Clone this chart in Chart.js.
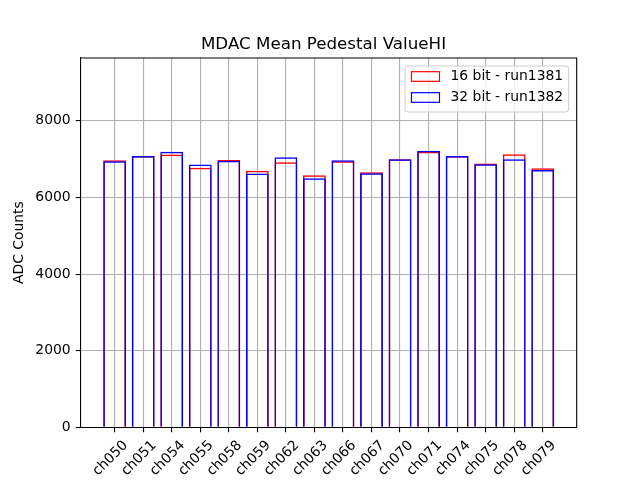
<!DOCTYPE html>
<html>
<head>
<meta charset="utf-8">
<script src="https://cdn.jsdelivr.net/npm/chart.js@4/dist/chart.umd.min.js"></script>
<style>
  html, body { margin: 0; padding: 0; background: #fff; }
  canvas { display: block; }
</style>
</head>
<body>
<canvas id="chart" width="640" height="480"></canvas>
<script>
// values
const CHANNELS = ['ch050','ch051','ch054','ch055','ch058','ch059','ch062','ch063',
                  'ch066','ch067','ch070','ch071','ch074','ch075','ch078','ch079'];
const RUN1381 = [6971, 7080, 7118, 6778, 6979, 6700, 6919, 6580,
                 6945, 6658, 6997, 7196, 7084, 6883, 7128, 6762];
const RUN1382 = [6945, 7084, 7196, 6857, 6960, 6622, 7050, 6501,
                 6971, 6632, 6997, 7222, 7084, 6867, 6997, 6718];
const Y_TICKS = [0, 2000, 4000, 6000, 8000];
const Y_MAX = 9640;

const FONT = 'DejaVu Sans';
const GRID = '#b0b0b0';

const toPoints = arr => arr.map((v, i) => ({ x: i, y: v }));

// title, frame and legend drawn on top like matplotlib
const decor = {
  id: 'decor',
  afterDraw(chart) {
    const { ctx, chartArea: a } = chart;
    ctx.save();

    // top & right spines
    ctx.strokeStyle = '#000';
    ctx.lineWidth = 1.1;
    ctx.beginPath();
    ctx.moveTo(a.left, a.top);
    ctx.lineTo(a.right, a.top);
    ctx.lineTo(a.right, a.bottom);
    ctx.stroke();

    // title
    ctx.fillStyle = '#000';
    ctx.font = '16.7px "' + FONT + '"';
    ctx.textAlign = 'center';
    ctx.textBaseline = 'alphabetic';
    ctx.fillText('MDAC Mean Pedestal ValueHI', 323.5, 49);

    // legend
    ctx.font = '13.9px "' + FONT + '"';
    const sets = chart.data.datasets;
    const textW = Math.max(...sets.map(d => ctx.measureText(d.label).width));
    const boxW = 6 + 28 + 11 + textW + 6;
    const boxH = 46;
    const x0 = a.right - 8 - boxW;
    const y0 = a.top + 8;
    ctx.beginPath();
    ctx.roundRect(x0, y0, boxW, boxH, 3);
    ctx.fillStyle = 'rgba(255,255,255,0.8)';
    ctx.fill();
    ctx.strokeStyle = '#cccccc';
    ctx.lineWidth = 1;
    ctx.stroke();

    ctx.textAlign = 'left';
    ctx.textBaseline = 'middle';
    sets.forEach((d, i) => {
      const cy = y0 + 10.5 + i * 21;
      ctx.strokeStyle = d.borderColor;
      ctx.lineWidth = 1.2;
      ctx.strokeRect(x0 + 6.5, cy - 4.8, 28, 9.6);
      ctx.fillStyle = '#000';
      ctx.fillText(d.label, x0 + 45.5, cy);
    });
    ctx.restore();
  }
};

new Chart(document.getElementById('chart'), {
  type: 'bar',
  data: {
    datasets: [
      {
        label: '16 bit - run1381',
        data: toPoints(RUN1381),
        borderColor: '#ff0000',
        backgroundColor: 'rgba(0,0,0,0)',
        borderWidth: 1.5,
        borderSkipped: 'start',
        order: 1
      },
      {
        label: '32 bit - run1382',
        data: toPoints(RUN1382),
        borderColor: '#0000ff',
        backgroundColor: 'rgba(0,0,0,0)',
        borderWidth: 1.5,
        borderSkipped: 'start',
        order: 0
      }
    ]
  },
  options: {
    responsive: false,
    animation: false,
    devicePixelRatio: 1,
    grouped: false,
    categoryPercentage: 1,
    barPercentage: 0.8,
    layout: { padding: { top: 58, right: 63.3, left: 0, bottom: 0 } },
    plugins: {
      legend: { display: false },
      title: { display: false },
      tooltip: { enabled: false }
    },
    scales: {
      x: {
        type: 'linear',
        min: -1.19,
        max: 16.19,
        offset: false,
        afterBuildTicks: s => { s.ticks = CHANNELS.map((_, i) => ({ value: i })); },
        afterFit: s => { s.height = 52.7; },
        grid: { color: GRID, lineWidth: 1.1, offset: false, tickColor: '#000', tickLength: 5 },
        border: { color: '#000', width: 1.1 },
        ticks: {
          autoSkip: false,
          minRotation: 45,
          maxRotation: 45,
          padding: 5,
          labelOffset: 11,
          color: '#000',
          font: { family: FONT, size: 13.9 },
          callback: v => CHANNELS[v]
        }
      },
      y: {
        min: 0,
        max: Y_MAX,
        afterBuildTicks: s => { s.ticks = Y_TICKS.map(v => ({ value: v })); },
        afterFit: s => { s.width = 80.7; },
        grid: { color: GRID, lineWidth: 1.1, tickColor: '#000', tickLength: 5 },
        border: { color: '#000', width: 1.1 },
        ticks: {
          padding: 5,
          color: '#000',
          font: { family: FONT, size: 13.9 },
          callback: v => String(v)
        },
        title: {
          display: true,
          text: 'ADC Counts',
          color: '#000',
          font: { family: FONT, size: 13.9 },
          padding: { top: 11.2, bottom: 0 }
        }
      }
    }
  },
  plugins: [decor]
});
</script>
</body>
</html>
